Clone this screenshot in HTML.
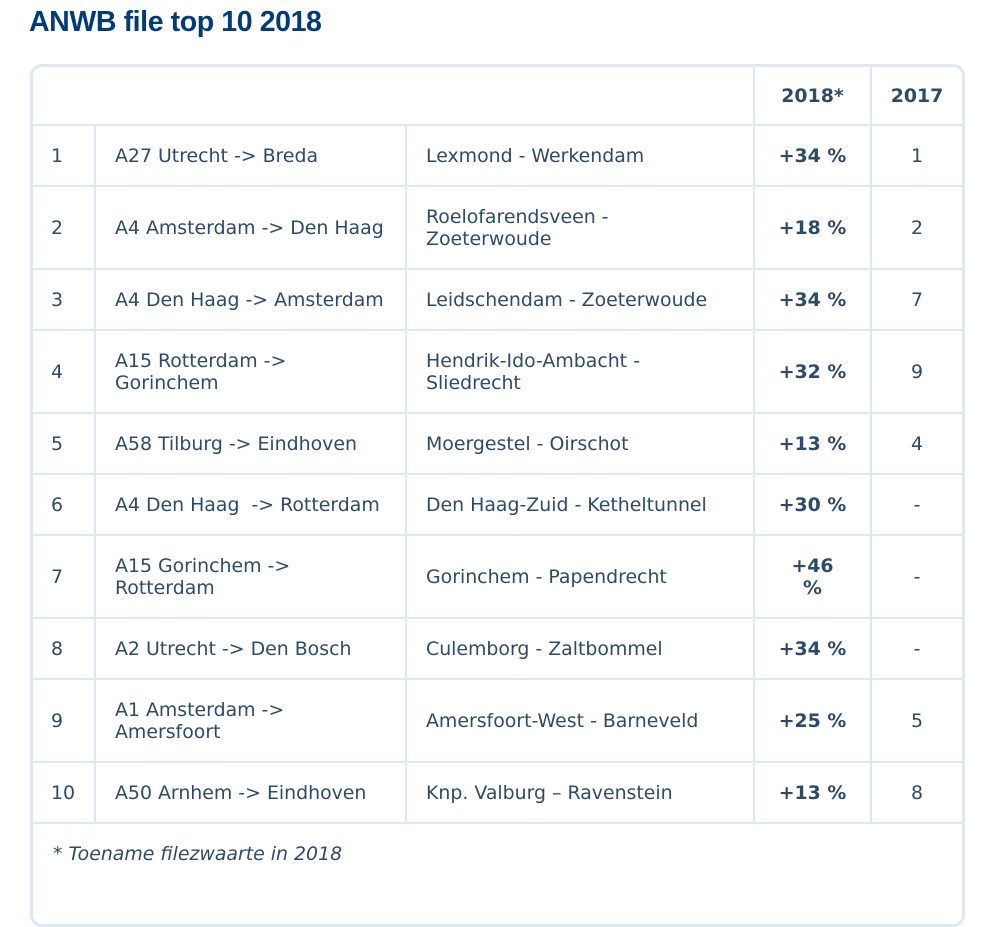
<!DOCTYPE html>
<html><head><meta charset="utf-8"><style>
body{margin:0;background:#fff;width:981px;height:881px;overflow:hidden;position:relative;font-family:"DejaVu Sans","Liberation Sans",sans-serif;}
h1{position:absolute;left:29px;top:6px;margin:0;font-family:"Liberation Sans",sans-serif;font-size:28.5px;font-weight:bold;color:#003a78;letter-spacing:-0.4px;}
.w{position:absolute;left:30px;top:64px;width:929px;border:3px solid #dde8f2;border-radius:12px;background:#fff;overflow:hidden;}
.g{display:grid;grid-template-columns:61px 309px 346px 115px 90px;grid-template-rows:57px 59px 81px 59px 81px 59px 59px 81px 59px 81px 59px 100px;gap:2px;background:#dde8f2;}
.g div{background:#fff;display:flex;align-items:center;font-size:18.9px;color:#2d4b69;line-height:22px;}
.g .n{padding-left:18px}
.g .t{padding-left:19px}
.c{justify-content:center;text-align:center}
.b{font-weight:bold}
.h{grid-column:1/4}
.g .f{grid-column:1/6;align-items:flex-start;padding:19px 0 0 20px;font-style:italic}
</style></head><body>
<h1>ANWB file top 10 2018</h1>
<div class="w"><div class="g">
<div class="h"></div><div class="c b">2018*</div><div class="c b">2017</div>
<div class="n">1</div><div class="t">A27 Utrecht -&gt; Breda</div><div class="t">Lexmond - Werkendam</div><div class="c b">+34 %</div><div class="c">1</div>
<div class="n">2</div><div class="t">A4 Amsterdam -&gt; Den Haag</div><div class="t">Roelofarendsveen -<br>Zoeterwoude</div><div class="c b">+18 %</div><div class="c">2</div>
<div class="n">3</div><div class="t">A4 Den Haag -&gt; Amsterdam</div><div class="t">Leidschendam - Zoeterwoude</div><div class="c b">+34 %</div><div class="c">7</div>
<div class="n">4</div><div class="t">A15 Rotterdam -&gt;<br>Gorinchem</div><div class="t">Hendrik-Ido-Ambacht -<br>Sliedrecht</div><div class="c b">+32 %</div><div class="c">9</div>
<div class="n">5</div><div class="t">A58 Tilburg -&gt; Eindhoven</div><div class="t">Moergestel - Oirschot</div><div class="c b">+13 %</div><div class="c">4</div>
<div class="n">6</div><div class="t">A4 Den Haag&nbsp; -&gt; Rotterdam</div><div class="t">Den Haag-Zuid - Ketheltunnel</div><div class="c b">+30 %</div><div class="c">-</div>
<div class="n">7</div><div class="t">A15 Gorinchem -&gt;<br>Rotterdam</div><div class="t">Gorinchem - Papendrecht</div><div class="c b">+46<br>%</div><div class="c">-</div>
<div class="n">8</div><div class="t">A2 Utrecht -&gt; Den Bosch</div><div class="t">Culemborg - Zaltbommel</div><div class="c b">+34 %</div><div class="c">-</div>
<div class="n">9</div><div class="t">A1 Amsterdam -&gt;<br>Amersfoort</div><div class="t">Amersfoort-West - Barneveld</div><div class="c b">+25 %</div><div class="c">5</div>
<div class="n">10</div><div class="t">A50 Arnhem -&gt; Eindhoven</div><div class="t">Knp. Valburg – Ravenstein</div><div class="c b">+13 %</div><div class="c">8</div>
<div class="f">* Toename filezwaarte in 2018</div>
</div></div>
</body></html>
